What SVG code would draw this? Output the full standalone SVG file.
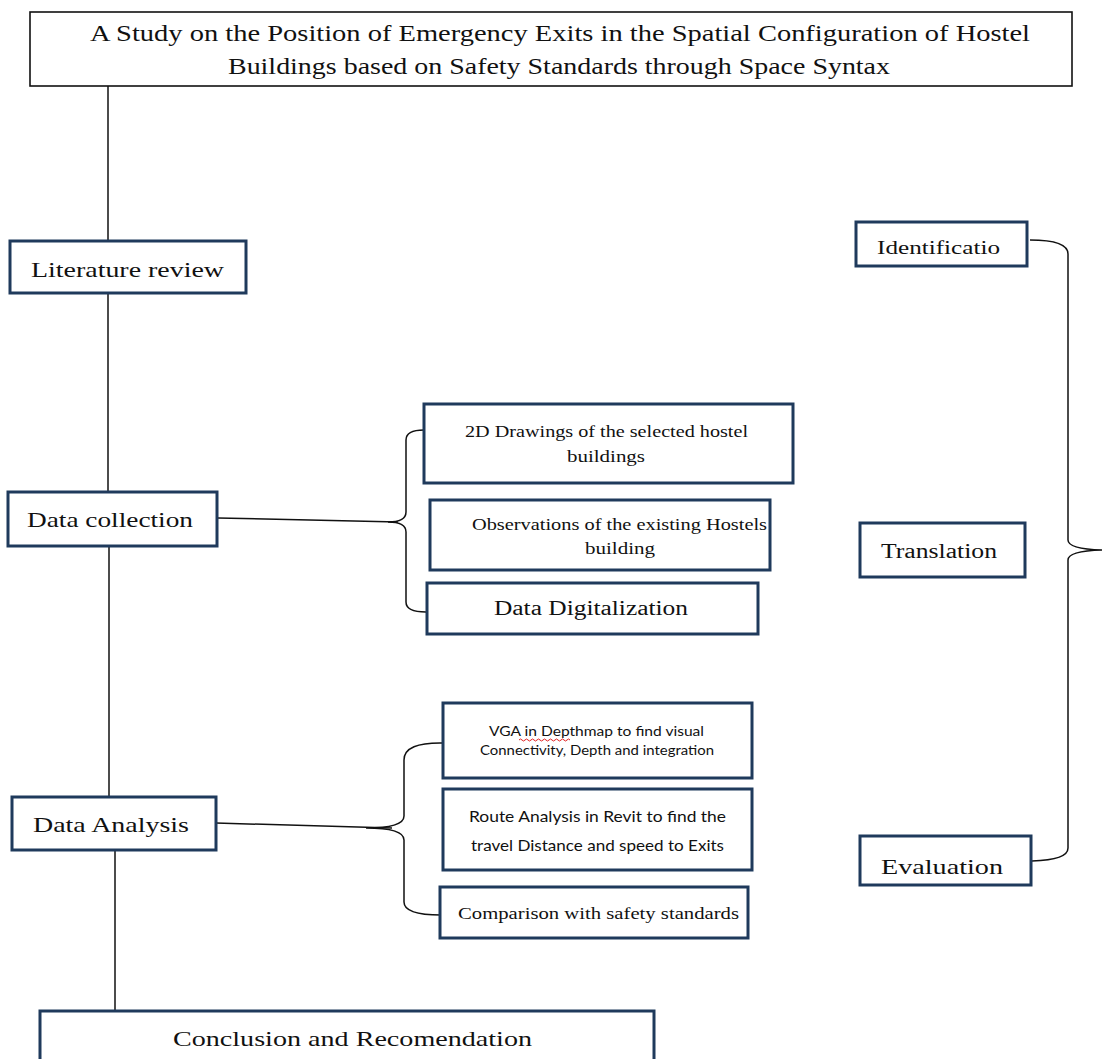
<svg xmlns="http://www.w3.org/2000/svg" width="1102" height="1059" viewBox="0 0 1102 1059">
<style>
.box{fill:#fff;stroke:#1f3a5c;stroke-width:3}
.tbox{fill:#fff;stroke:#111;stroke-width:1.6}
.s{font-family:"Liberation Serif","DejaVu Serif",serif;fill:#111}
.k{font-family:Lato,"Open Sans","Liberation Sans",sans-serif;fill:#111}
.c{fill:none;stroke:#111;stroke-width:1.5}
</style>
<rect width="1102" height="1059" fill="#fff"/>
<g id="connectors">
<path class="c" d="M108,86 V241"/>
<path class="c" d="M108,293 V492"/>
<path class="c" d="M109,546 V797"/>
<path class="c" d="M115,850 V1011"/>
<path class="c" d="M218,518 L398,522"/>
<path class="c" d="M424,430 Q406,430 406,440 V512 Q406,522 388,522 Q406,522 406,532 V602 Q406,612 426,612"/>
<path class="c" d="M216,823 L392,828"/>
<path class="c" d="M444,743 Q404,742 404,760 V816 Q404,828 366,828 Q404,828 404,840 V902 Q404,915 441,915"/>
<path class="c" d="M1030,240 Q1068,240 1068,254 V540 Q1068,549 1102,550 Q1068,551 1068,560 V848 Q1068,860 1032,861"/>
</g>
<g id="title">
<rect class="tbox" x="30" y="12" width="1042" height="74"/>
<text class="s" x="90" y="41" font-size="23" textLength="940" lengthAdjust="spacingAndGlyphs">A Study on the Position of Emergency Exits in the   Spatial Configuration of Hostel</text>
<text class="s" x="228" y="74" font-size="23" textLength="662" lengthAdjust="spacingAndGlyphs">Buildings based on Safety Standards through Space Syntax</text>
</g>
<g id="literature-review">
<rect class="box" x="10" y="241" width="236" height="52"/>
<text class="s" x="31" y="277" font-size="21" textLength="193" lengthAdjust="spacingAndGlyphs">Literature review</text>
</g>
<g id="data-collection">
<rect class="box" x="8" y="492" width="209" height="54"/>
<text class="s" x="27" y="527" font-size="22" textLength="166" lengthAdjust="spacingAndGlyphs">Data collection</text>
</g>
<g id="data-analysis">
<rect class="box" x="12" y="797" width="204" height="53"/>
<text class="s" x="33" y="832" font-size="22" textLength="156" lengthAdjust="spacingAndGlyphs">Data Analysis</text>
</g>
<g id="conclusion">
<rect class="box" x="40" y="1011" width="614" height="60"/>
<text class="s" x="173" y="1046" font-size="22" textLength="359" lengthAdjust="spacingAndGlyphs">Conclusion and Recomendation</text>
</g>
<g id="drawings">
<rect class="box" x="424" y="404" width="369" height="79"/>
<text class="s" x="465" y="437" font-size="16" textLength="283" lengthAdjust="spacingAndGlyphs">2D Drawings of the selected hostel</text>
<text class="s" x="567" y="462" font-size="16" textLength="78" lengthAdjust="spacingAndGlyphs">buildings</text>
</g>
<g id="observations">
<rect class="box" x="430" y="500" width="340" height="70"/>
<text class="s" x="472" y="530" font-size="16" textLength="295" lengthAdjust="spacingAndGlyphs">Observations of the existing Hostels</text>
<text class="s" x="585" y="554" font-size="16" textLength="70" lengthAdjust="spacingAndGlyphs">building</text>
</g>
<g id="digitalization">
<rect class="box" x="427" y="583" width="331" height="51"/>
<text class="s" x="494" y="615" font-size="20" textLength="194" lengthAdjust="spacingAndGlyphs">Data Digitalization</text>
</g>
<g id="vga">
<rect class="box" x="443" y="703" width="309" height="75"/>
<text class="k" x="489" y="736" font-size="13" textLength="215" lengthAdjust="spacingAndGlyphs">VGA in Depthmap to find visual</text>
<path d="M519,740 q1.5,-2 3,0 t3,0 t3,0 t3,0 t3,0 t3,0 t3,0 t3,0 t3,0 t3,0 t3,0 t3,0 t3,0 t3,0 t3,0 t3,0 t3,0" fill="none" stroke="#e02020" stroke-width="1"/>
<text class="k" x="480" y="755" font-size="13" textLength="234" lengthAdjust="spacingAndGlyphs">Connectivity, Depth and integration</text>
</g>
<g id="route">
<rect class="box" x="443" y="789" width="309" height="81"/>
<text class="k" x="469" y="822" font-size="15" textLength="257" lengthAdjust="spacingAndGlyphs">Route Analysis in Revit to find the</text>
<text class="k" x="471" y="851" font-size="15" textLength="253" lengthAdjust="spacingAndGlyphs">travel Distance and speed to Exits</text>
</g>
<g id="comparison">
<rect class="box" x="440" y="887" width="308" height="51"/>
<text class="s" x="458" y="919" font-size="16" textLength="281" lengthAdjust="spacingAndGlyphs">Comparison with safety standards</text>
</g>
<g id="identification">
<rect class="box" x="856" y="222" width="171" height="44"/>
<text class="s" x="877" y="254" font-size="19" textLength="123" lengthAdjust="spacingAndGlyphs">Identificatio</text>
</g>
<g id="translation">
<rect class="box" x="860" y="523" width="165" height="54"/>
<text class="s" x="881" y="558" font-size="20" textLength="116" lengthAdjust="spacingAndGlyphs">Translation</text>
</g>
<g id="evaluation">
<rect class="box" x="860" y="836" width="171" height="49"/>
<text class="s" x="881" y="874" font-size="22" textLength="122" lengthAdjust="spacingAndGlyphs">Evaluation</text>
</g>
</svg>
